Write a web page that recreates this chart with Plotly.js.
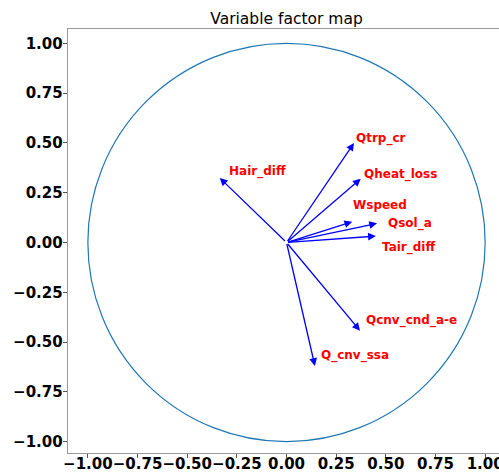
<!DOCTYPE html>
<html>
<head>
<meta charset="utf-8">
<script src="https://cdn.plot.ly/plotly-3.0.1.min.js"></script>
<style>
html,body{margin:0;padding:0;overflow:hidden;background:#fff;}
#chart{width:505px;height:472px;}
</style>
</head>
<body>
<div id="chart"></div>
<script>
// Variable names and arrow end coordinates
const variables = ["Hair_diff", "Qtrp_cr", "Qheat_loss", "Wspeed", "Qsol_a", "Tair_diff", "Qcnv_cnd_a-e", "Q_cnv_ssa"];
const dim1 = [-0.336, 0.340, 0.374, 0.331, 0.456, 0.450, 0.370, 0.143];
const dim2 = [0.324, 0.500, 0.320, 0.104, 0.096, 0.032, -0.443, -0.620];
// Label anchor positions (left edge, vertical centre)
const labelX = [-0.293, 0.347, 0.385, 0.330, 0.506, 0.476, 0.397, 0.170];
const labelY = [0.358, 0.520, 0.343, 0.186, 0.094, -0.025, -0.392, -0.567];
const tickVals = [-1.0, -0.75, -0.5, -0.25, 0.0, 0.25, 0.5, 0.75, 1.0];

const annotations = [];
for (let i = 0; i < variables.length; i++) {
  annotations.push({
    x: dim1[i], y: dim2[i], xref: 'x', yref: 'y',
    ax: 0, ay: 0, axref: 'x', ayref: 'y',
    showarrow: true, arrowhead: 2, arrowsize: 1.2, arrowwidth: 1.3,
    arrowcolor: '#0000ff', standoff: 0, startstandoff: 0, text: ''
  });
  annotations.push({
    x: labelX[i], y: labelY[i], xref: 'x', yref: 'y',
    text: '<b>' + variables[i] + '</b>', showarrow: false,
    xanchor: 'left', yanchor: 'middle', borderpad: 0,
    font: {family: 'DejaVu Sans', size: 12, color: '#ff0000'}
  });
}

const axisCommon = {
  showgrid: false, zeroline: false, showline: true, mirror: true,
  linecolor: '#999999', linewidth: 1.3,
  ticks: 'outside', ticklen: 4, tickwidth: 1, tickcolor: '#555555',
  tickvals: tickVals, tickformat: '.2f', tickangle: 0,
  tickfont: {family: 'DejaVu Sans', size: 15, color: '#000000', weight: 'bold'},
  automargin: false, fixedrange: true
};

const layout = {
  width: 505, height: 472,
  margin: {l: 68, r: 0, t: 29, b: 19, pad: 0},
  paper_bgcolor: '#ffffff', plot_bgcolor: '#ffffff',
  showlegend: false,
  title: {
    text: 'Variable factor map', xref: 'paper', x: 0.5, xanchor: 'center',
    yref: 'container', y: 0.96, yanchor: 'middle',
    font: {family: 'DejaVu Sans', size: 15.5, color: '#000000'}
  },
  xaxis: Object.assign({}, axisCommon, {range: [-1.1, 1.1], ticklabelstandoff: -7}),
  yaxis: Object.assign({}, axisCommon, {range: [-1.057, 1.072], ticklabelstandoff: -3}),
  shapes: [{
    type: 'circle', xref: 'x', yref: 'y', x0: -1, x1: 1, y0: -1, y1: 1,
    line: {color: '#1f77b4', width: 1.2}, layer: 'below'
  }],
  annotations: annotations
};

Plotly.newPlot('chart', [{x: [], y: [], type: 'scatter', mode: 'markers', hoverinfo: 'skip'}], layout, {displayModeBar: false, staticPlot: true});
</script>
</body>
</html>
